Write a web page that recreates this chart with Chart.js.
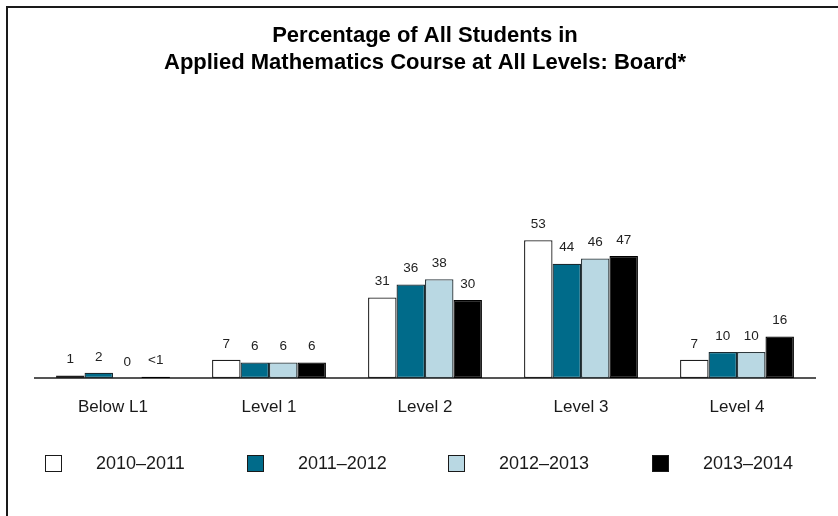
<!DOCTYPE html>
<html>
<head>
<meta charset="utf-8">
<script src="https://cdn.jsdelivr.net/npm/chart.js@4.4.1/dist/chart.umd.min.js"></script>
<style>
  html, body { margin: 0; padding: 0; background: #ffffff; }
  #wrap { width: 838px; height: 516px; position: relative; }
</style>
</head>
<body>
<div id="wrap"><canvas id="chart" width="838" height="516"></canvas></div>
<script>
// Achievement levels on the x axis
const categories = ['Below L1', 'Level 1', 'Level 2', 'Level 3', 'Level 4'];

// School years shown as separate series
const years = ['2010\u20132011', '2011\u20132012', '2012\u20132013', '2013\u20132014'];

// Percentage of students at each level, per school year ("<1" is stored as 0.5)
const pct2010 = [1, 7, 31, 53, 7];
const pct2011 = [2, 6, 36, 44, 10];
const pct2012 = [0, 6, 38, 46, 10];
const pct2013 = [0.5, 6, 30, 47, 16];

const titleLines = ['Percentage of All Students in', 'Applied Mathematics Course at All Levels: Board*'];

const fills = ['#ffffff', '#006b8a', '#b9d8e3', '#000000'];
const edges = ['#1e1e1e', '#1a2a30', '#2e3a3e', '#000000'];
const FONT = '"Liberation Sans", Arial, Helvetica, sans-serif';

const seriesValues = [pct2010, pct2011, pct2012, pct2013];

const datasets = years.map((y, i) => ({
  label: y,
  data: seriesValues[i],
  backgroundColor: fills[i],
  borderColor: edges[i],
  borderWidth: 1.3,
  borderSkipped: false,
  categoryPercentage: 0.73,
  barPercentage: 1.0
}));

function formatValue(v) {
  if (v === 0) return '0';
  if (v < 1) return '<1';
  return String(Math.round(v));
}

// Frame lines along the top and left edge
const framePlugin = {
  id: 'frame',
  beforeDraw(chart) {
    const ctx = chart.ctx;
    ctx.save();
    ctx.fillStyle = '#ffffff';
    ctx.fillRect(0, 0, chart.width, chart.height);
    ctx.strokeStyle = '#1a1a1a';
    ctx.lineWidth = 2;
    ctx.beginPath();
    ctx.moveTo(7, chart.height);
    ctx.lineTo(7, 7);
    ctx.lineTo(chart.width, 7);
    ctx.stroke();
    ctx.restore();
  }
};

// Value labels above every bar
const valueLabels = {
  id: 'valueLabels',
  afterDatasetsDraw(chart) {
    const ctx = chart.ctx;
    ctx.save();
    ctx.font = '13.5px ' + FONT;
    ctx.fillStyle = '#222222';
    ctx.textAlign = 'center';
    ctx.textBaseline = 'middle';
    chart.data.datasets.forEach((ds, di) => {
      const meta = chart.getDatasetMeta(di);
      meta.data.forEach((bar, i) => {
        ctx.fillText(formatValue(ds.data[i]), bar.x, bar.y - 16);
      });
    });
    ctx.restore();
  }
};

// Legend row under the axis labels
const legendRow = {
  id: 'legendRow',
  afterDraw(chart) {
    const ctx = chart.ctx;
    const boxX = [45, 247, 448, 652];
    const boxTop = 455;
    const size = 17;
    ctx.save();
    ctx.font = '18px ' + FONT;
    ctx.textAlign = 'left';
    ctx.textBaseline = 'middle';
    chart.data.datasets.forEach((ds, i) => {
      const x = boxX[i];
      ctx.fillStyle = ds.backgroundColor;
      ctx.fillRect(x, boxTop, size, size);
      ctx.strokeStyle = '#1a1a1a';
      ctx.lineWidth = 1;
      ctx.strokeRect(x + 0.5, boxTop + 0.5, size - 1, size - 1);
      ctx.fillStyle = '#1a1a1a';
      ctx.fillText(ds.label, x + 51, boxTop + size / 2 + 1);
    });
    ctx.restore();
  }
};

new Chart(document.getElementById('chart'), {
  type: 'bar',
  data: { labels: categories, datasets: datasets },
  options: {
    responsive: false,
    animation: false,
    devicePixelRatio: 1,
    layout: { padding: { left: 35, right: 23, top: 0, bottom: 88 } },
    plugins: {
      legend: { display: false },
      tooltip: { enabled: false },
      title: {
        display: true,
        text: titleLines,
        color: '#000000',
        font: { family: FONT, size: 22, weight: 'bold', lineHeight: 1.23 },
        padding: { top: 22.5, bottom: 145.5 }
      }
    },
    scales: {
      x: {
        grid: { display: false, drawTicks: false },
        border: { display: true, color: '#555555', width: 2 },
        ticks: { color: '#1a1a1a', font: { family: FONT, size: 17 }, padding: 19 },
        afterFit(scale) { scale.height = 50; }
      },
      y: {
        display: false,
        min: 0,
        max: 60
      }
    }
  },
  plugins: [framePlugin, valueLabels, legendRow]
});
</script>
</body>
</html>
